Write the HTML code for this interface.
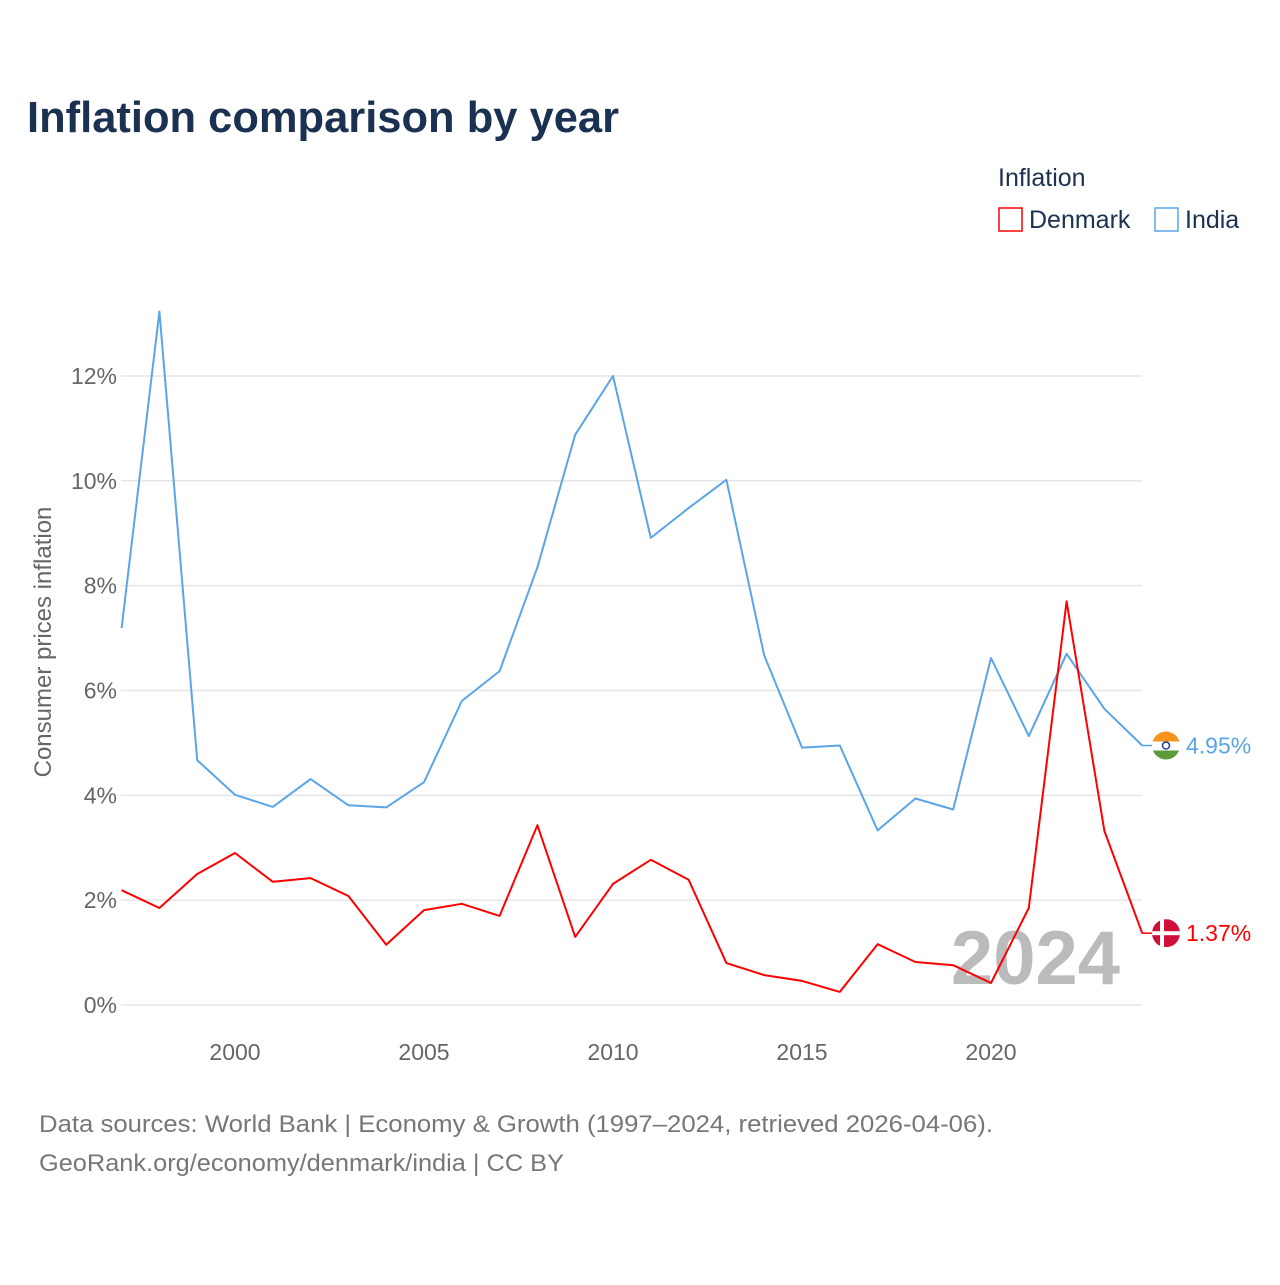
<!DOCTYPE html>
<html><head><meta charset="utf-8"><style>
body{margin:0;background:#fff;width:1280px;height:1280px;overflow:hidden;font-family:"Liberation Sans",sans-serif}
</style></head><body>
<svg id="chart" width="1280" height="1280" xmlns="http://www.w3.org/2000/svg" font-family="Liberation Sans, sans-serif">
<text x="27" y="132" font-size="44" font-weight="bold" fill="#1b3151" textLength="592" lengthAdjust="spacingAndGlyphs">Inflation comparison by year</text>
<text x="998" y="186" font-size="25" fill="#1b3151">Inflation</text>
<g><rect x="999" y="208" width="23" height="23" fill="none" stroke="#f00" stroke-width="1.5"/><text x="1029" y="228" font-size="25" fill="#1b3151">Denmark</text></g>
<g><rect x="1155" y="208" width="23" height="23" fill="none" stroke="#5aa5e8" stroke-width="1.5"/><text x="1185" y="228" font-size="25" fill="#1b3151">India</text></g>
<text transform="translate(51,642) rotate(-90)" text-anchor="middle" font-size="24" fill="#666">Consumer prices inflation</text>
<g id="grid"></g><g id="xt"></g>
<text x="1120" y="984" text-anchor="end" font-size="76" font-weight="bold" fill="#bbb">2024</text>
<g id="series"></g>
<text x="39" y="1132" font-size="24" fill="#777" textLength="954" lengthAdjust="spacingAndGlyphs">Data sources: World Bank | Economy &amp; Growth (1997–2024, retrieved 2026-04-06).</text>
<text x="39" y="1171" font-size="24" fill="#777" textLength="525" lengthAdjust="spacingAndGlyphs">GeoRank.org/economy/denmark/india | CC BY</text>
</svg>
<script>
const years=[1997,1998,1999,2000,2001,2002,2003,2004,2005,2006,2007,2008,2009,2010,2011,2012,2013,2014,2015,2016,2017,2018,2019,2020,2021,2022,2023,2024];
const india=[7.19,13.23,4.67,4.01,3.78,4.31,3.81,3.77,4.25,5.80,6.37,8.35,10.88,12.0,8.91,9.48,10.02,6.67,4.91,4.95,3.33,3.94,3.73,6.62,5.13,6.70,5.65,4.95];
const denmark=[2.19,1.85,2.50,2.90,2.35,2.42,2.08,1.15,1.81,1.93,1.70,3.43,1.30,2.31,2.77,2.39,0.80,0.57,0.46,0.25,1.16,0.82,0.76,0.42,1.85,7.70,3.32,1.37];
const yTicks=[0,2,4,6,8,10,12];
const xTicks=[2000,2005,2010,2015,2020];
const NS="http://www.w3.org/2000/svg";
const X=y=>121.6+(y-1997)*37.8, Y=v=>1005-v*52.42;
function mk(t,a,p){const e=document.createElementNS(NS,t);for(const k in a)e.setAttribute(k,a[k]);p.appendChild(e);return e;}
const g=document.getElementById('grid');
yTicks.forEach(v=>{
 const l=mk('line',{x1:121,x2:1142,y1:Y(v),y2:Y(v),stroke:'#e6e6e6','stroke-width':1.5},g);
 
 
 const t=mk('text',{x:117,y:Y(v)+8,'text-anchor':'end','font-size':23,fill:'#666'},g);t.textContent=v+'%';
 
 
});
const xt=document.getElementById('xt');
xTicks.forEach(v=>{const t=mk('text',{x:X(v),y:1060,'text-anchor':'middle','font-size':23,fill:'#666'},xt);t.textContent=v;
 
 });
const s=document.getElementById('series');
function line(arr,col,name){
 const d=arr.map((v,i)=>(i?'L':'M')+X(years[i]).toFixed(1)+','+Y(v).toFixed(1)).join('');
 const p=mk('path',{d:d,fill:'none',stroke:col,'stroke-width':2,'stroke-linejoin':'round'},s);
 
 
 const last=arr[arr.length-1],ly=Y(last);
 mk('line',{x1:1142,x2:1154,y1:ly,y2:ly,stroke:col,'stroke-width':1.5},s);
 const t=mk('text',{x:1186,y:ly+8,'font-size':23,fill:col},s);t.textContent=last.toFixed(2)+'%';
 
 
 return ly;
}
const iy=line(india,'#5aa5e8','india');
const dy=line(denmark,'#f00','denmark');
const fi=mk('g',{},s);


const ci=mk('clipPath',{id:'ci'},fi);mk('circle',{cx:1166,cy:iy,r:14},ci);
const gi=mk('g',{'clip-path':'url(#ci)'},fi);
mk('rect',{x:1152,y:iy-14,width:28,height:10,fill:'#f7941d'},gi);
mk('rect',{x:1152,y:iy-4,width:28,height:9,fill:'#fff'},gi);
mk('rect',{x:1152,y:iy+5,width:28,height:10,fill:'#5d9b3a'},gi);
mk('circle',{cx:1166,cy:iy,r:3.5,fill:'none',stroke:'#1e3f9e','stroke-width':1.5},gi);
const fd=mk('g',{},s);


const cd=mk('clipPath',{id:'cd'},fd);mk('circle',{cx:1166,cy:dy,r:14},cd);
const gd=mk('g',{'clip-path':'url(#cd)'},fd);
mk('rect',{x:1152,y:dy-14,width:28,height:28,fill:'#d0103a'},gd);
mk('rect',{x:1152,y:dy-2,width:28,height:4,fill:'#fff'},gd);
mk('rect',{x:1160,y:dy-14,width:4,height:28,fill:'#fff'},gd);
</script>
</body></html>
